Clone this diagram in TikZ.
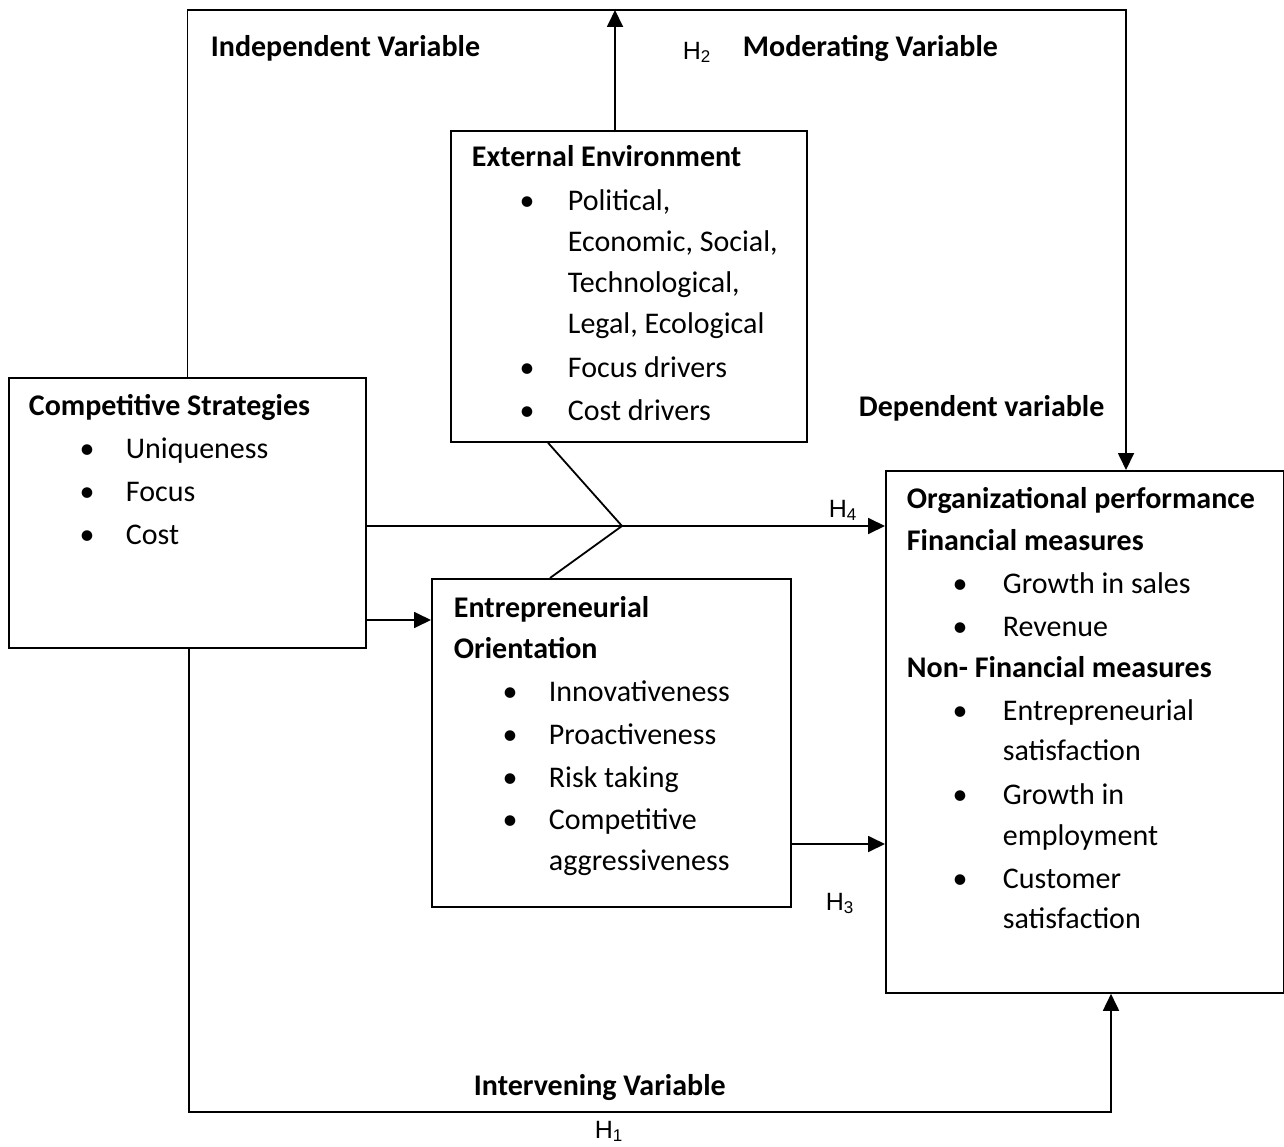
\documentclass[tikz,border=0pt]{standalone}
\usepackage{fontspec}
\setmainfont{Carlito}
\newfontfamily\hfont{Liberation Sans}
\usetikzlibrary{arrows.meta}
\newcommand\hlab[1]{{\hfont\fontsize{25}{25}\selectfont H\raisebox{-3pt}{\fontsize{17}{17}\selectfont #1}}}
\begin{document}
\begin{tikzpicture}[x=1pt,y=-1pt, line width=1.8pt,
  >={Triangle[length=17pt,width=16pt]},
  box/.style={draw, line width=1.8pt, inner sep=0pt, anchor=north west},
  txt/.style={anchor=base west, inner sep=0pt, font=\fontsize{30}{36}\selectfont},
  btxt/.style={anchor=base west, inner sep=0pt, font=\fontsize{30}{36}\selectfont\bfseries},
  bul/.style={anchor=base, inner sep=0pt, font=\fontsize{30}{36}\selectfont},
  hl/.style={anchor=west, inner sep=0pt}]
\useasboundingbox[fill=white] (0,0) rectangle (1284,1147);

% boxes
\node[box, minimum width=356pt, minimum height=311pt] (ext) at (450,130) {};
\node[box, minimum width=357pt, minimum height=270pt] (comp) at (8,377) {};
\node[box, minimum width=359pt, minimum height=328pt] (eo) at (431,578) {};
\node[box, minimum width=398pt, minimum height=522pt] (org) at (885,470) {};

% coordinates
\coordinate (tr) at (1126,10);
\coordinate (j) at (622,526);
\coordinate (ce) at (0,620);
\coordinate (eoy) at (0,844);
\coordinate (bl) at (189,1112);
\coordinate (br) at (1111,1112);
\coordinate (h2) at ([xshift=165pt]ext.north west);

% connectors
\draw[->] (comp.north) |- (tr) -- (tr |- org.north);
\draw[->] (h2) -- (h2 |- tr);
\draw[->] (comp.east |- j) -- (org.west |- j);
\draw ([xshift=98pt]ext.south west) -- (j) -- ([xshift=119pt]eo.north west);
\draw[->] (comp.east |- ce) -- (eo.west |- ce);
\draw[->] (eo.east |- eoy) -- (org.west |- eoy);
\draw[->] (comp.south -| bl) -- (bl) -- (br) -- (br |- org.south);

% free labels
\node[btxt] (iv) at (210,57) {Independent Variable};
\node[btxt] (mv) at (742,57) {Moderating Variable};
\node[btxt] (dv) at (858,416) {Dependent variable};
\node[btxt] (inv) at (473,1095) {Intervening Variable};
\node[hl] (lh2) at (682,52) {\hlab{2}};
\node[hl] (lh4) at (828,510) {\hlab{4}};
\node[hl] (lh3) at (825,903) {\hlab{3}};
\node[hl] (lh1) at (594,1131) {\hlab{1}};

% external environment
\node[btxt] (e0) at (471,167) {External Environment};
\node[bul] (eb1) at (527,211) {•};
\node[txt] (e1) at (567,211) {Political,};
\node[txt] (e2) at (567,252) {Economic, Social,};
\node[txt] (e3) at (567,293) {Technological,};
\node[txt] (e4) at (567,334) {Legal, Ecological};
\node[bul] (eb2) at (527,377) {•};
\node[txt] (e5) at (567,377) {Focus drivers};
\node[bul] (eb3) at (527,420) {•};
\node[txt] (e6) at (567,420) {Cost drivers};

% competitive strategies
\node[btxt] (c0) at (28,415) {Competitive Strategies};
\node[bul] (cb1) at (87,458) {•};
\node[txt] (c1) at (125,458) {Uniqueness};
\node[bul] (cb2) at (87,501) {•};
\node[txt] (c2) at (125,501) {Focus};
\node[bul] (cb3) at (87,544) {•};
\node[txt] (c3) at (125,544) {Cost};

% entrepreneurial orientation
\node[btxt] (o0) at (453,617) {Entrepreneurial};
\node[btxt] (o1) at (453,658) {Orientation};
\node[bul] (ob1) at (510,701) {•};
\node[txt] (o2) at (548,701) {Innovativeness};
\node[bul] (ob2) at (510,744) {•};
\node[txt] (o3) at (548,744) {Proactiveness};
\node[bul] (ob3) at (510,787) {•};
\node[txt] (o4) at (548,787) {Risk taking};
\node[bul] (ob4) at (510,829) {•};
\node[txt] (o5) at (548,829) {Competitive};
\node[txt] (o6) at (548,870) {aggressiveness};

% organizational performance
\node[btxt] (p0) at (906,508) {Organizational performance};
\node[btxt] (p1) at (906,550) {Financial measures};
\node[bul] (pb1) at (960,593) {•};
\node[txt] (p2) at (1002,593) {Growth in sales};
\node[bul] (pb2) at (960,636) {•};
\node[txt] (p3) at (1002,636) {Revenue};
\node[btxt] (p4) at (906,677) {Non- Financial measures};
\node[bul] (pb3) at (960,720) {•};
\node[txt] (p5) at (1002,720) {Entrepreneurial};
\node[txt] (p6) at (1002,760) {satisfaction};
\node[bul] (pb4) at (960,804) {•};
\node[txt] (p7) at (1002,804) {Growth in};
\node[txt] (p8) at (1002,845) {employment};
\node[bul] (pb5) at (960,888) {•};
\node[txt] (p9) at (1002,888) {Customer};
\node[txt] (p10) at (1002,928) {satisfaction};
\end{tikzpicture}
\end{document}
